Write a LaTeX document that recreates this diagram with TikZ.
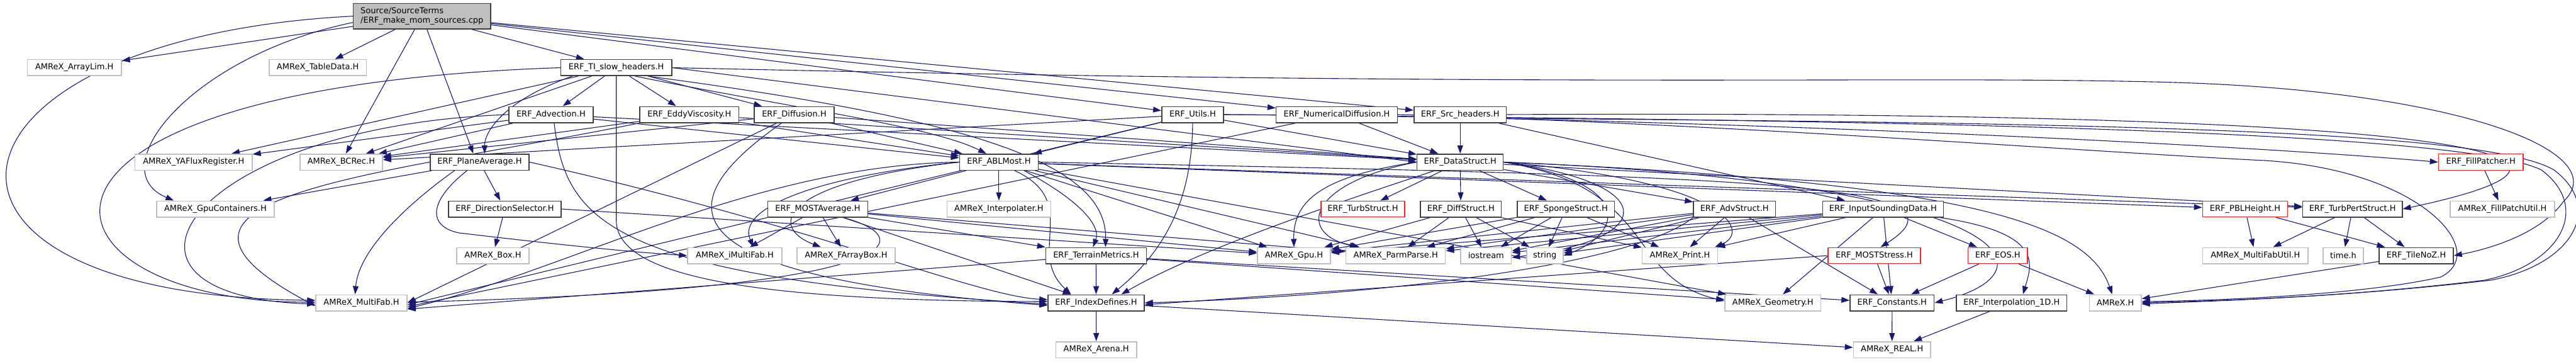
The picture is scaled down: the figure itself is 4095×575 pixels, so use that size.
\documentclass[tikz,border=0pt]{standalone}
\usepackage{fontspec}
\setmainfont{DejaVu Sans}
\usetikzlibrary{arrows.meta}
\definecolor{edgec}{RGB}{25,25,112}
\definecolor{blkb}{RGB}{64,64,64}
\definecolor{gryb}{RGB}{191,191,191}
\definecolor{redb}{RGB}{255,30,30}
\pgfdeclarelayer{bg}
\pgfsetlayers{bg,main}
\tikzset{
 nd/.style={rectangle, inner sep=0pt, minimum height=25.5pt, font=\fontsize{13}{15.4}\selectfont, line width=1.5pt, fill=white},
 bk/.style={nd, draw=blkb},
 gy/.style={nd, draw=gryb},
 rd/.style={nd, draw=redb, line width=1.3pt},
 dep/.style={draw=edgec, line width=1.1pt, -{Triangle[length=13pt,width=9pt]}},
}
\begin{document}
\begin{tikzpicture}[x=1pt,y=-1pt]
\useasboundingbox (0,0) rectangle (4095,575);
% row 0
\node[nd, draw=blkb, fill=gryb, minimum width=218.4pt, minimum height=40.3pt, align=left] (src) at (670.8,25.7) {Source/SourceTerms\\/ERF\_make\_mom\_sources.cpp};
% row 1
\node[gy, minimum width=149.2pt] (arraylim) at (118.3,107.5) {AMReX\_ArrayLim.H};
\node[gy, minimum width=154.9pt] (tabledata) at (505.2,107.5) {AMReX\_TableData.H};
\node[bk, minimum width=176.3pt] (tislow) at (979.7,107.5) {ERF\_TI\_slow\_headers.H};
% row 2
\node[bk, minimum width=133.9pt] (advection) at (875.9,182) {ERF\_Advection.H};
\node[bk, minimum width=157.5pt] (eddy) at (1095.8,182) {ERF\_EddyViscosity.H};
\node[bk, minimum width=127pt] (diffusion) at (1262.5,182) {ERF\_Diffusion.H};
\node[bk, minimum width=98.2pt] (utils) at (1895.9,182) {ERF\_Utils.H};
\node[bk, minimum width=192.8pt] (numdiff) at (2125,182) {ERF\_NumericalDiffusion.H};
\node[bk, minimum width=146.8pt] (srch) at (2321.2,182) {ERF\_Src\_headers.H};
% row 3
\node[gy, minimum width=186.2pt] (yaflux) at (307.8,257.5) {AMReX\_YAFluxRegister.H};
\node[gy, minimum width=131.2pt] (bcrec) at (542.4,257.5) {AMReX\_BCRec.H};
\node[bk, minimum width=157.1pt] (planeavg) at (762.5,257.5) {ERF\_PlaneAverage.H};
\node[bk, minimum width=125pt] (ablmost) at (1587.9,257.5) {ERF\_ABLMost.H};
\node[bk, minimum width=137pt] (datastruct) at (2321.2,257.5) {ERF\_DataStruct.H};
\node[rd, minimum width=134.6pt] (fillpatcher) at (3943.7,257.5) {ERF\_FillPatcher.H};
% row 4
\node[gy, minimum width=186.7pt] (gpucont) at (342.4,332) {AMReX\_GpuContainers.H};
\node[bk, minimum width=179pt] (dirsel) at (802.5,332) {ERF\_DirectionSelector.H};
\node[bk, minimum width=159pt] (mostavg) at (1300,332) {ERF\_MOSTAverage.H};
\node[gy, minimum width=165.2pt] (interp) at (1587.9,332) {AMReX\_Interpolater.H};
\node[rd, minimum width=133pt] (turbstruct) at (2166.5,332) {ERF\_TurbStruct.H};
\node[bk, minimum width=128.6pt] (diffstruct) at (2322.3,332) {ERF\_DiffStruct.H};
\node[bk, minimum width=154.5pt] (sponge) at (2489.3,332) {ERF\_SpongeStruct.H};
\node[bk, minimum width=130.3pt] (advstruct) at (2757.2,332) {ERF\_AdvStruct.H};
\node[bk, minimum width=192pt] (inputsnd) at (2993.3,332) {ERF\_InputSoundingData.H};
\node[rd, minimum width=135.3pt] (pblh) at (3569,332) {ERF\_PBLHeight.H};
\node[bk, minimum width=158.1pt] (turbpert) at (3739.7,332) {ERF\_TurbPertStruct.H};
\node[gy, minimum width=166pt] (fillpatchutil) at (3978,332) {AMReX\_FillPatchUtil.H};
% row 5
\node[gy, minimum width=115pt] (box) at (783.5,406) {AMReX\_Box.H};
\node[gy, minimum width=149.8pt] (imultifab) at (1167.9,406) {AMReX\_iMultiFab.H};
\node[gy, minimum width=156pt] (farraybox) at (1345,406) {AMReX\_FArrayBox.H};
\node[bk, minimum width=159.8pt] (terrain) at (1742.4,406) {ERF\_TerrainMetrics.H};
\node[gy, minimum width=116pt] (gpu) at (2057,406) {AMReX\_Gpu.H};
\node[gy, minimum width=158pt] (parmparse) at (2218.7,406) {AMReX\_ParmParse.H};
\node[gy, minimum width=80.6pt] (iostream) at (2362.3,406) {iostream};
\node[gy, minimum width=58pt] (string) at (2455.8,406) {string};
\node[gy, minimum width=119.6pt] (print) at (2670.5,406) {AMReX\_Print.H};
\node[rd, minimum width=147pt] (moststress) at (2979.5,406) {ERF\_MOSTStress.H};
\node[rd, minimum width=94.5pt] (eos) at (3175.8,406) {ERF\_EOS.H};
\node[gy, minimum width=167.8pt] (multifabutil) at (3585.3,406) {AMReX\_MultiFabUtil.H};
\node[gy, minimum width=64pt] (timeh) at (3725,406) {time.h};
\node[bk, minimum width=118pt] (tilenoz) at (3841,406) {ERF\_TileNoZ.H};
% row 6
\node[gy, minimum width=145pt] (multifab) at (574.5,481) {AMReX\_MultiFab.H};
\node[bk, minimum width=153pt] (indexdef) at (1742.5,481) {ERF\_IndexDefines.H};
\node[gy, minimum width=152.6pt] (geometry) at (2818.3,481) {AMReX\_Geometry.H};
\node[bk, minimum width=133.5pt] (constants) at (3007.8,481) {ERF\_Constants.H};
\node[bk, minimum width=175.6pt] (interp1d) at (3197.8,481) {ERF\_Interpolation\_1D.H};
\node[gy, minimum width=82.2pt] (amrex) at (3362.7,481) {AMReX.H};
% row 7
\node[gy, minimum width=128.1pt] (arena) at (1742.7,555.5) {AMReX\_Arena.H};
\node[gy, minimum width=122.6pt] (real) at (3007.7,555.5) {AMReX\_REAL.H};

\begin{pgfonlayer}{bg}
% source file
\draw[dep] (src) -- (arraylim);
\draw[dep] (src) -- (tabledata);
\draw[dep] (src.west) .. controls (-120,60) and (-200,470) .. ([yshift=4pt]multifab.west);
\draw[dep] (src) -- (bcrec);
\draw[dep] ([yshift=-10pt]src.west) .. controls (300,90) and (160,270) .. ([xshift=28pt]gpucont.north west);
\draw[dep] (src) -- ([xshift=-10pt]planeavg.north);
\draw[dep] (src) -- (tislow);
\draw[dep] (src) -- (utils);
\draw[dep] (src) -- (numdiff);
\draw[dep] (src) -- (srch);
% TI_slow_headers
\draw[dep] (tislow) -- (advection);
\draw[dep] (tislow) -- (eddy);
\draw[dep] (tislow) -- (diffusion);
\draw[dep] (tislow.west) .. controls (-60,140) and (40,480) .. ([yshift=1pt]multifab.west);
\draw[dep] (tislow) -- (yaflux);
\draw[dep] (tislow) -- (bcrec);
\draw[dep] ([xshift=-70pt]tislow.south) .. controls (800,160) and (770,210) .. ([xshift=8pt]planeavg.north);
\draw[dep] (tislow.south) -- (979.7,350) .. controls (979.7,440) and (1200,478) .. ([yshift=2pt]indexdef.west);
\draw[dep] ([xshift=30pt]tislow.south) .. controls (1250,170) and (1480,200) .. ([xshift=-20pt]ablmost.north);
\draw[dep] ([xshift=50pt]tislow.south) .. controls (1550,190) and (1760,260) .. ([xshift=15pt]terrain.north);
\draw[dep] (tislow.east) -- (datastruct.west);
\draw[dep] (tislow.east) .. controls (2500,140) and (3000,120) .. (3420,130) .. controls (3900,140) and (4160,240) .. (4075,320) .. controls (4040,370) and (3960,395) .. (tilenoz.east);
% Advection
\draw[dep] (advection.west) .. controls (300,200) and (120,470) .. ([yshift=-2pt]multifab.west);
\draw[dep] (advection) -- (bcrec);
\draw[dep] (advection) -- (yaflux);
\draw[dep] (advection) -- (ablmost);
\draw[dep] (advection) -- (datastruct);
\draw[dep] ([xshift=5pt]advection.south) .. controls (900,350) and (960,440) .. ([yshift=-2pt]indexdef.west);
% EddyViscosity
\draw[dep] (eddy.south west) .. controls (600,280) and (170,310) .. ([yshift=-5pt]multifab.west);
\draw[dep] (eddy) -- (bcrec);
\draw[dep] (eddy) -- (ablmost);
\draw[dep] (eddy) -- (datastruct);
% Diffusion
\draw[dep] (diffusion) -- (multifab.east);
\draw[dep] (diffusion) -- (bcrec);
\draw[dep] (diffusion) -- (ablmost);
\draw[dep] (diffusion) -- (datastruct);
\draw[dep] ([xshift=-20pt]diffusion.south) .. controls (1050,330) and (1060,440) .. ([yshift=-4pt]indexdef.west);
% Utils
\draw[dep] (utils) -- ([yshift=-3pt]multifab.east);
\draw[dep] (utils) -- (bcrec);
\draw[dep] (utils) -- (ablmost);
\draw[dep] (utils) -- (datastruct);
\draw[dep] (utils.south) .. controls (1895,320) and (1850,400) .. ([xshift=25pt]indexdef.north);
\draw[dep] (utils.east) .. controls (2600,185) and (3500,225) .. (fillpatcher.west);
\draw[dep] (utils.east) .. controls (2800,190) and (3900,200) .. (4040,270) .. controls (4120,330) and (4070,420) .. (3950,445) .. controls (3700,475) and (3500,478) .. ([yshift=-2pt]amrex.east);
% NumericalDiffusion
\draw[dep] (numdiff) -- (datastruct);
\draw[dep] (numdiff) -- ([yshift=-6pt]multifab.east);
\draw[dep] (numdiff.east) .. controls (2800,200) and (3300,240) .. (3600,255) .. controls (3850,270) and (3960,400) .. (3880,440) .. controls (3750,470) and (3500,478) .. ([yshift=2pt]amrex.east);
% Src_headers
\draw[dep] (srch) -- (datastruct);
\draw[dep] (srch) -- (inputsnd);
\draw[dep] (srch.east) .. controls (3700,175) and (4300,230) .. (turbpert.east);
\draw[dep] ([yshift=-6pt]srch.east) .. controls (3300,195) and (3950,205) .. (4060,270) .. controls (4140,330) and (4090,420) .. (3960,445) .. controls (3700,475) and (3500,478) .. (amrex.east);
% PlaneAverage
\draw[dep] (planeavg) -- (dirsel);
\draw[dep] (planeavg) -- (gpucont);
\draw[dep] ([xshift=-40pt]planeavg.south) .. controls (640,330) and (570,400) .. ([xshift=-10pt]multifab.north);
\draw[dep] ([xshift=-20pt]planeavg.south) .. controls (680,320) and (680,360) .. (730,370) .. controls (900,390) and (1000,400) .. (imultifab.west);
\draw[dep] (planeavg.east) .. controls (1300,360) and (1550,470) .. ([yshift=5pt]indexdef.west);
% DirectionSelector
\draw[dep] (dirsel) -- (box);
\draw[dep] (dirsel.east) -- (gpu);
% ABLMost
\draw[dep] (ablmost) -- (mostavg);
\draw[dep] (ablmost) -- (interp);
\draw[dep] ([xshift=40pt]ablmost.south) .. controls (1720,320) and (1750,360) .. ([xshift=-5pt]terrain.north);
\draw[dep] ([xshift=25pt]ablmost.south) .. controls (1720,320) and (1630,400) .. ([xshift=-40pt]indexdef.north);
\draw[dep] (ablmost.west) .. controls (1300,280) and (1170,330) .. ([xshift=30pt]imultifab.north);
\draw[dep] (ablmost.west) .. controls (1240,290) and (1220,360) .. ([xshift=-40pt]farraybox.north);
\draw[dep] (ablmost.west) .. controls (1200,262) and (900,430) .. ([yshift=-9pt]multifab.east);
\draw[dep] (ablmost) -- (gpu);
\draw[dep] (ablmost) -- (parmparse);
\draw[dep] (ablmost) -- (geometry);
\draw[dep] (ablmost.east) .. controls (2800,280) and (3150,290) .. ([xshift=10pt]moststress.north);
\draw[dep] (ablmost) -- (pblh);
\draw[dep] (ablmost) -- (turbpert);
% MOSTAverage
\draw[dep] (mostavg) -- (imultifab);
\draw[dep] (mostavg) -- (farraybox);
\draw[dep] (mostavg) -- (terrain);
\draw[dep] (mostavg) -- (indexdef);
\draw[dep] ([xshift=40pt]mostavg.south) .. controls (1470,380) and (1440,460) .. ([yshift=1pt]multifab.east);
\draw[dep] (mostavg) -- (gpu);
\draw[dep] (mostavg) -- (parmparse);
% TerrainMetrics
\draw[dep] (terrain) -- (indexdef);
\draw[dep] (terrain) -- ([yshift=-10pt]multifab.east);
\draw[dep] (terrain) -- (geometry);
\draw[dep] (terrain) -- (constants);
% DataStruct
\draw[dep] (datastruct) -- (turbstruct);
\draw[dep] (datastruct) -- (diffstruct);
\draw[dep] (datastruct) -- (sponge);
\draw[dep] (datastruct) -- (advstruct);
\draw[dep] (datastruct.west) .. controls (2100,280) and (2055,320) .. (gpu.north);
\draw[dep] (datastruct.west) .. controls (2080,290) and (2060,370) .. ([xshift=-60pt]parmparse.north);
\draw[dep] (datastruct.east) .. controls (2640,290) and (2640,380) .. ([yshift=-3pt]iostream.east);
\draw[dep] (datastruct.east) .. controls (2600,290) and (2580,370) .. (string.east);
\draw[dep] (datastruct.east) .. controls (2760,290) and (2780,370) .. ([xshift=-5pt]print.north east);
\draw[dep] (datastruct.east) .. controls (2640,300) and (2580,440) .. ([yshift=3pt]geometry.west);
\draw[dep] (datastruct.east) .. controls (3200,290) and (3280,430) .. (constants.east);
\draw[dep] ([xshift=-40pt]datastruct.south) .. controls (2100,330) and (1900,400) .. ([xshift=40pt]indexdef.north);
\draw[dep] (datastruct) -- (turbpert);
\draw[dep] (datastruct.east) .. controls (3150,290) and (3320,360) .. ([xshift=-5pt]amrex.north);
% DiffStruct
\draw[dep] (diffstruct) -- (gpu);
\draw[dep] (diffstruct) -- (parmparse);
\draw[dep] (diffstruct) -- (iostream);
\draw[dep] (diffstruct) -- (string);
\draw[dep] (diffstruct) -- (print);
% SpongeStruct
\draw[dep] (sponge) -- (gpu);
\draw[dep] (sponge) -- (parmparse);
\draw[dep] (sponge) -- (iostream);
\draw[dep] (sponge) -- (string);
\draw[dep] (sponge) -- (print);
% AdvStruct
\draw[dep] (advstruct) -- (gpu);
\draw[dep] (advstruct) -- (parmparse);
\draw[dep] (advstruct) -- (iostream);
\draw[dep] (advstruct) -- (string);
\draw[dep] (advstruct) -- (print);
\draw[dep] (advstruct) -- (constants);
\draw[dep] (advstruct.south west) .. controls (2600,420) and (2200,470) .. (indexdef.east);
% InputSoundingData
\draw[dep] (inputsnd) -- (gpu);
\draw[dep] (inputsnd) -- (parmparse);
\draw[dep] (inputsnd) -- (iostream);
\draw[dep] (inputsnd) -- (string);
\draw[dep] (inputsnd) -- (print);
\draw[dep] (inputsnd) -- (geometry);
\draw[dep] (inputsnd) -- (constants);
\draw[dep] (inputsnd) -- (eos);
\draw[dep] ([xshift=90pt]inputsnd.south) .. controls (3250,370) and (3230,420) .. ([xshift=18pt]interp1d.north);
% lower level
\draw[dep] (moststress) -- (constants);
\draw[dep] (moststress.west) -- ([yshift=-3pt]indexdef.east);
\draw[dep] (eos) -- (constants);
\draw[dep] (eos) -- (amrex);
\draw[dep] (pblh) -- (multifabutil);
\draw[dep] (pblh) -- (tilenoz);
\draw[dep] (turbpert) -- (multifabutil);
\draw[dep] (turbpert) -- (timeh);
\draw[dep] (turbpert) -- (tilenoz);
\draw[dep] (tilenoz) -- (amrex);
\draw[dep] (fillpatcher) -- (fillpatchutil);
\draw[dep] (constants) -- (real);
\draw[dep] (interp1d) -- (real);
\draw[dep] (indexdef) -- (arena);
\draw[dep] (indexdef) -- (real);
\end{pgfonlayer}
\end{tikzpicture}
\end{document}
